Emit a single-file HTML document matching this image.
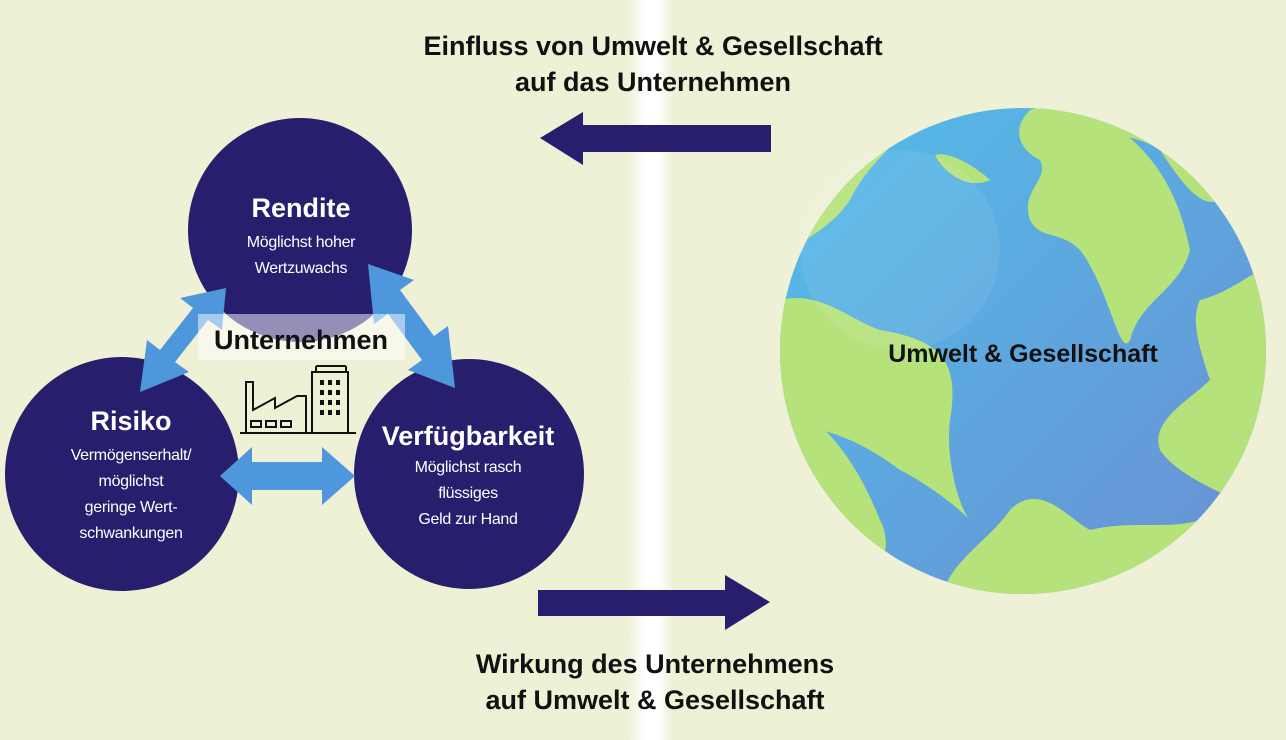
<!DOCTYPE html>
<html><head><meta charset="utf-8"><style>
html,body{margin:0;padding:0;}
body{width:1286px;height:740px;overflow:hidden;background:#eef1d5;}
svg{display:block}
text{font-family:"Liberation Sans",sans-serif;}
</style></head><body>
<svg width="1286" height="740" viewBox="0 0 1286 740" xmlns="http://www.w3.org/2000/svg">
<defs>
<linearGradient id="band" x1="0" x2="1" y1="0" y2="0">
<stop offset="0" stop-color="#eef1d5"/><stop offset="0.35" stop-color="#ffffff"/><stop offset="0.65" stop-color="#ffffff"/><stop offset="1" stop-color="#eef1d5"/>
</linearGradient>
<linearGradient id="sea" x1="0" y1="0" x2="1" y2="1">
<stop offset="0" stop-color="#52bdea"/><stop offset="1" stop-color="#6a8fd2"/>
</linearGradient>
<clipPath id="gc"><circle cx="1023" cy="351" r="243"/></clipPath>
</defs>
<rect width="1286" height="740" fill="#eef1d5"/>
<rect x="628" y="0" width="46" height="740" fill="url(#band)"/>

<g font-weight="bold" font-size="27" fill="#111" text-anchor="middle">
<text x="653" y="55">Einfluss von Umwelt &amp; Gesellschaft</text>
<text x="653" y="91">auf das Unternehmen</text>
<text x="655" y="673">Wirkung des Unternehmens</text>
<text x="655" y="709">auf Umwelt &amp; Gesellschaft</text>
</g>

<polygon points="540,138 583,112 583,125 771,125 771,152 583,152 583,165" fill="#271f6e"/>
<polygon points="538,590 725,590 725,575 770,602 725,630 725,616 538,616" fill="#271f6e"/>

<!-- globe -->
<circle cx="1023" cy="351" r="243" fill="url(#sea)"/>
<g clip-path="url(#gc)" fill="#b6e27c">
<path d="M780,260 C800,240 830,230 850,200 C870,160 900,140 930,110 L930,100 L760,100 Z"/>
<path d="M780,300 C820,290 850,320 880,330 C940,340 960,360 950,420 C945,460 960,510 970,520 C950,500 920,480 900,470 C860,440 830,430 780,420 Z"/>
<path d="M780,400 C830,420 860,470 880,520 C900,560 870,600 780,600 Z"/>
<path d="M1030,110 C1060,100 1100,110 1120,130 C1160,160 1180,200 1190,250 C1180,290 1140,300 1130,340 C1120,360 1110,290 1080,250 C1060,230 1040,240 1030,220 C1020,190 1050,180 1040,160 C1020,150 1010,130 1030,110 Z"/>
<path d="M1050,100 L1170,90 L1250,140 L1220,200 C1200,210 1180,180 1160,150 C1130,130 1100,140 1080,120 Z"/>
<path d="M1200,300 C1240,290 1260,260 1280,270 L1280,520 C1240,500 1180,480 1160,450 C1150,420 1190,400 1210,380 C1200,350 1190,320 1200,300 Z"/>
<path d="M940,600 C950,560 990,540 1010,510 C1040,480 1070,520 1090,530 C1130,520 1170,530 1200,520 L1240,600 Z"/>
<path d="M935,155 C950,150 980,170 990,180 C970,190 945,175 935,155 Z"/>
</g>
<circle cx="900" cy="250" r="100" fill="#ffffff" opacity="0.08"/>
<text x="1023" y="362" font-weight="bold" font-size="25" fill="#111" text-anchor="middle">Umwelt &amp; Gesellschaft</text>

<!-- circles -->
<circle cx="300" cy="230" r="112" fill="#271f6e"/>
<circle cx="122" cy="474" r="117" fill="#271f6e"/>
<circle cx="469" cy="474" r="115" fill="#271f6e"/>

<!-- blue double arrows -->
<g fill="#4f97dc">
<polygon points="226,288 222,330 208,320 175,362 189,372 140,392 147,340 160,350 193,308 180,298"/>
<polygon points="368,264 414,280 400,290 434,336 448,326 455,388 408,370 422,360 388,314 374,324"/>
<polygon points="220,476 252,447 252,462 322,462 322,447 355,476 322,505 322,490 252,490 252,505"/>
</g>

<rect x="198" y="314" width="207" height="46" fill="#ffffff" opacity="0.5"/>
<text x="301" y="349" font-weight="bold" font-size="27" fill="#111" text-anchor="middle">Unternehmen</text>

<!-- factory icon -->
<g fill="none" stroke="#111" stroke-width="2">
<path d="M246,433 L246,382 L253,382 L253,410 L275,398 L275,408 L297,396 L306,396 L306,433 Z"/>
<rect x="312" y="372" width="36" height="61"/>
<line x1="316" y1="366" x2="346" y2="366"/>
<line x1="316" y1="366" x2="316" y2="372"/><line x1="346" y1="366" x2="346" y2="372"/>
<line x1="240" y1="433" x2="356" y2="433"/>
<rect x="251" y="421" width="10" height="6"/><rect x="266" y="421" width="10" height="6"/><rect x="281" y="421" width="10" height="6"/>
</g>
<g fill="#111">
<rect x="320" y="380" width="4" height="5"/><rect x="328" y="380" width="4" height="5"/><rect x="336" y="380" width="4" height="5"/>
<rect x="320" y="390" width="4" height="5"/><rect x="328" y="390" width="4" height="5"/><rect x="336" y="390" width="4" height="5"/>
<rect x="320" y="400" width="4" height="5"/><rect x="328" y="400" width="4" height="5"/><rect x="336" y="400" width="4" height="5"/>
<rect x="320" y="410" width="4" height="5"/><rect x="328" y="410" width="4" height="5"/><rect x="336" y="410" width="4" height="5"/>
</g>

<g fill="#fff" text-anchor="middle">
<text x="301" y="217" font-weight="bold" font-size="27">Rendite</text>
<text x="301" y="247" font-size="16" letter-spacing="-0.3">Möglichst hoher</text>
<text x="301" y="273" font-size="16" letter-spacing="-0.3">Wertzuwachs</text>

<text x="131" y="430" font-weight="bold" font-size="27">Risiko</text>
<text x="131" y="460" font-size="16" letter-spacing="-0.3">Vermögenserhalt/</text>
<text x="131" y="486" font-size="16" letter-spacing="-0.3">möglichst</text>
<text x="131" y="512" font-size="16" letter-spacing="-0.3">geringe Wert-</text>
<text x="131" y="538" font-size="16" letter-spacing="-0.3">schwankungen</text>

<text x="468" y="445" font-weight="bold" font-size="27">Verfügbarkeit</text>
<text x="468" y="472" font-size="16" letter-spacing="-0.3">Möglichst rasch</text>
<text x="468" y="498" font-size="16" letter-spacing="-0.3">flüssiges</text>
<text x="468" y="524" font-size="16" letter-spacing="-0.3">Geld zur Hand</text>
</g>
</svg>
</body></html>
